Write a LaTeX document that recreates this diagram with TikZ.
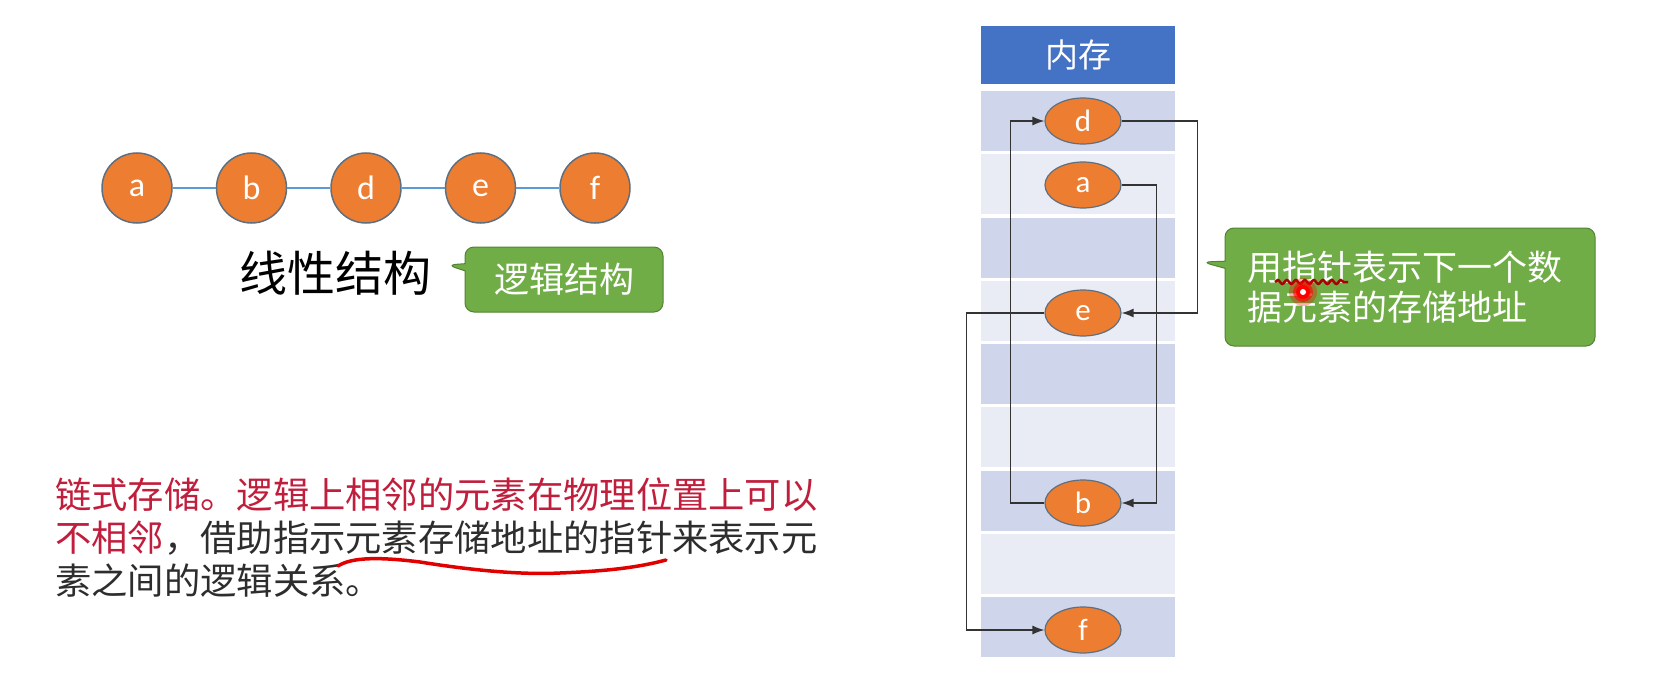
\documentclass[tikz,border=0pt]{standalone}
\usepackage{fontspec}
\setmainfont{Carlito}
\newfontfamily\cjk{Noto Sans CJK SC}
\usetikzlibrary{shapes.geometric,shapes.callouts,arrows.meta,decorations.pathmorphing}

\definecolor{nodeorange}{HTML}{ED7D31}
\definecolor{nodeedge}{HTML}{5E6F80}
\definecolor{chainblue}{HTML}{5B9BD5}
\definecolor{headblue}{HTML}{4472C4}
\definecolor{rowdark}{HTML}{CFD5EA}
\definecolor{rowlight}{HTML}{E9EBF5}
\definecolor{hintgreen}{HTML}{70AD47}
\definecolor{hintedge}{HTML}{548235}
\definecolor{redtxt}{RGB}{192,30,60}
\definecolor{graytxt}{RGB}{45,45,45}
\definecolor{pen}{RGB}{225,0,0}

\tikzset{
  elem/.style={circle, draw=nodeedge, line width=1.5pt, fill=nodeorange, minimum size=70pt, inner sep=0pt, text=white, font=\fontsize{34}{34}\selectfont},
  cell/.style={ellipse, draw=nodeedge, line width=1.2pt, fill=nodeorange, minimum width=76pt, minimum height=46pt, inner sep=0pt, text=white, font=\fontsize{31}{31}\selectfont},
  slot/.style={rectangle, minimum width=194pt, minimum height=60pt, inner sep=0pt},
  hint/.style={rectangle callout, rounded corners=9pt, fill=hintgreen, draw=hintedge, line width=1pt, text=white, font=\cjk\fontsize{35}{40}\selectfont},
  link/.style={draw=black!80, line width=1.3pt, -{Latex[length=12pt,width=9pt]}},
}

\begin{document}
\begin{tikzpicture}[x=1pt,y=-1pt]
\fill[white] (0,0) rectangle (1662,698);
\useasboundingbox (0,0) rectangle (1662,698);

% logical structure
\foreach \n/\x in {a/137,b/251.5,d/366,e/480.5,f/595}
  \node[elem] (t\n) at (\x,188) {\n};
\draw[chainblue, line width=2pt] (ta) -- (tb) -- (td) -- (te) -- (tf);

\node[font=\cjk\fontsize{48}{48}\selectfont] (lin) at (335,273) {线性结构};
\node[hint, minimum width=198pt, minimum height=65pt, callout absolute pointer={(447,265)}] (logic) at (564,279.5) {逻辑结构};

% memory column
\node[slot, minimum height=58pt, fill=headblue, text=white, font=\cjk\fontsize{33}{33}\selectfont] (mem) at (1078,55) {内存};
\foreach \i/\c in {1/rowdark,2/rowlight,3/rowdark,4/rowlight,5/rowdark,6/rowlight,7/rowdark,8/rowlight,9/rowdark}
  \node[slot, fill=\c] (row\i) at (1078,{121+(\i-1)*63.25}) {};

\node[cell] (d) at (1083,121) {d};
\node[cell] (a) at (1083,185) {a};
\node[cell] (e) at (1083,313) {e};
\node[cell] (b) at (1083,503) {b};
\node[cell] (f) at (1083,630) {f};

\draw[link] (d.east) -- ++(76,0) |- (e.east);
\draw[link] (a.east) -- ++(35,0) |- (b.east);
\draw[link] (b.west) -- ++(-34,0) |- (d.west);
\draw[link] (e.west) -- ++(-78,0) |- (f.west);

\node[hint, minimum width=370pt, minimum height=118pt, text width=326pt, align=left, callout absolute pointer={(1202,262)}] (ptr) at (1410,287) {用指针表示下一个数\\据元素的存储地址};

% description
\node[anchor=north west, align=left, inner sep=0pt, text=graytxt, font=\cjk\fontsize{36.3}{43}\selectfont] (para) at (55,478)
  {\textcolor{redtxt}{链式存储。逻辑上相邻的元素在物理位置上可以}\\\textcolor{redtxt}{不相邻}，借助指示元素存储地址的指针来表示元\\素之间的逻辑关系。};

% pen marks
\draw[pen, line width=3.5pt, line cap=round] (338,566) .. controls (352,557) and (380,557) .. (420,562)
  .. controls (470,570) and (520,575) .. (560,573) .. controls (610,571) and (640,567) .. (666,560);
\draw[pen!75!black, line width=2.5pt, decorate, decoration={snake, amplitude=2pt, segment length=9pt}] (1275,282) -- (1348,282);
\fill[red, opacity=0.3] (1303,292) circle (14);
\fill[red, opacity=0.6] (1303,292) circle (10);
\fill[red] (1303,292) circle (7);
\fill[white] (1303,292) circle (3);
\end{tikzpicture}
\end{document}
